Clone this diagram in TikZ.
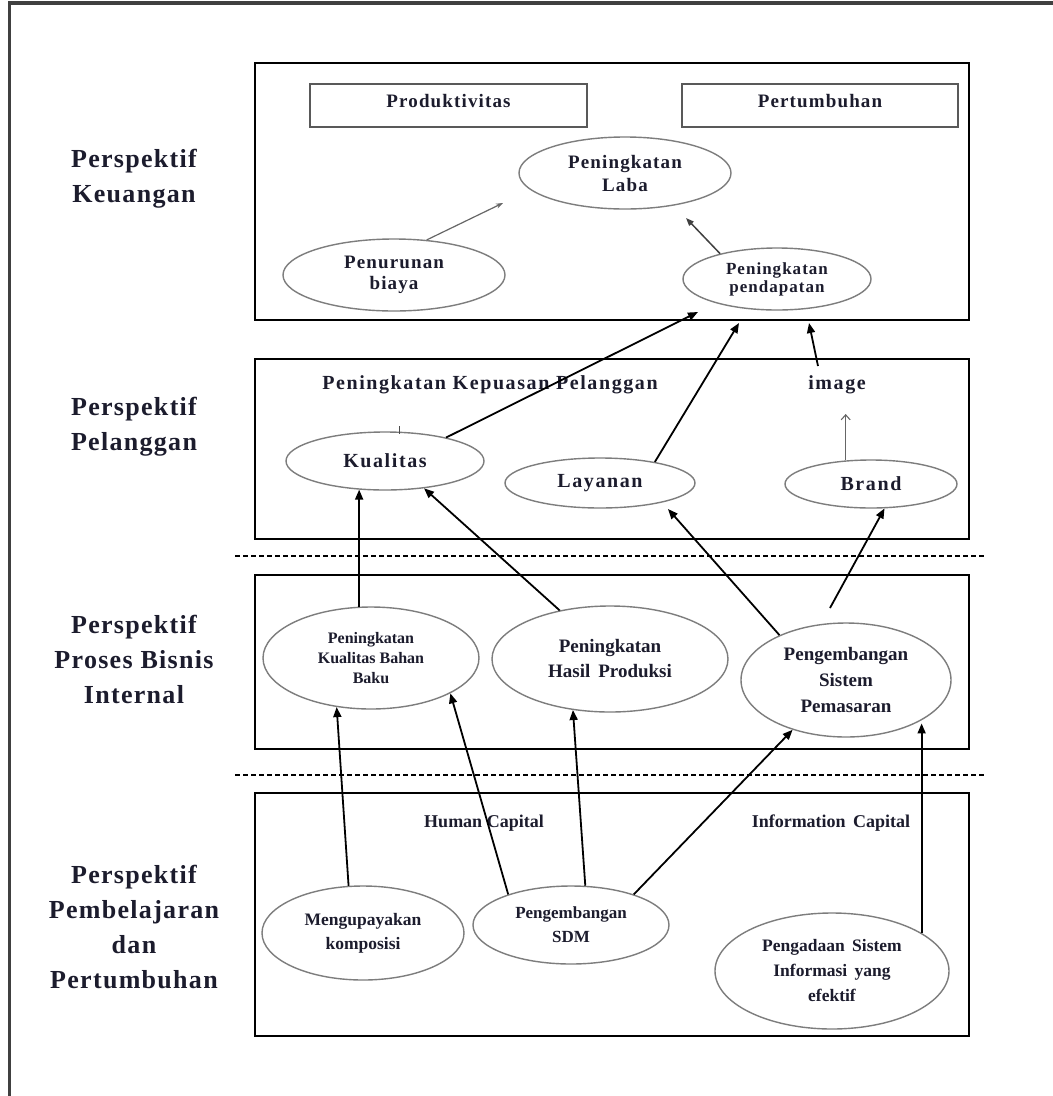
\documentclass[tikz,border=0pt]{standalone}
\usepackage{fontspec}
\setmainfont{Liberation Serif}
\newfontfamily\lblfont[LetterSpace=5]{Liberation Serif}
\newfontfamily\wideA[LetterSpace=6]{Liberation Serif}
\newfontfamily\wideC[LetterSpace=8]{Liberation Serif}
\usetikzlibrary{shapes.geometric,arrows.meta}
\definecolor{ink}{RGB}{28,28,45}
\definecolor{ellgray}{RGB}{125,125,125}
\begin{document}
\begin{tikzpicture}[x=1pt,y=-1pt,
  persp/.style={font=\lblfont\bfseries\fontsize{26}{35}\selectfont, align=center, text=ink, inner sep=0pt},
  frame/.style={draw=black, line width=1.8pt, inner sep=0pt, minimum width=714pt},
  tab/.style={draw=black!65, line width=1.6pt, inner sep=0pt, minimum height=43pt, text depth=9pt,
    font=\wideA\bfseries\fontsize{19}{22}\selectfont, text=ink},
  ell/.style={ellipse, draw=ellgray, line width=1.4pt, inner sep=0pt, align=center, text=ink},
  txtA/.style={font=\wideC\bfseries\fontsize{20}{22}\selectfont, text=ink, inner sep=0pt},
  txtB/.style={font=\bfseries\fontsize{18}{22}\selectfont, text=ink, inner sep=0pt},
  arr/.style={-{Triangle[length=10pt,width=8pt]}, line width=1.8pt, black},
  thinarr/.style={-{Stealth[length=7pt,width=5pt]}, line width=1.2pt, black!60},
  midarr/.style={-{Triangle[length=8pt,width=6pt]}, line width=1.5pt, black!75},
  openarr/.style={-{Straight Barb[length=5pt,width=9pt]}, line width=1.1pt, black!60},
  sep/.style={line width=1.2pt, dash pattern=on 5pt off 3pt}
]
\useasboundingbox (0,0) rectangle (1053,1096);
\fill[white] (0,0) rectangle (1053,1096);
% outer frame
\draw[line width=3.5pt, black!75] (9.5,1096) -- (9.5,3) -- (1053,3);

% perspective labels
\node[persp] (lk) at (134,179) {Perspektif\\Keuangan};
\node[persp] (lp) at (134,427) {Perspektif\\Pelanggan};
\node[persp] (lb) at (134,659) {Perspektif\\Proses Bisnis\\Internal};
\node[persp] (ll) at (134,927) {Perspektif\\Pembelajaran\\dan\\Pertumbuhan};

% frames
\node[frame, minimum height=257pt] (box1) at (612,191.5) {};
\node[frame, minimum height=180pt] (box2) at (612,449) {};
\node[frame, minimum height=174pt] (box3) at (612,662) {};
\node[frame, minimum height=243pt] (box4) at (612,914.5) {};

% separators
\coordinate (s1a) at (235,556); \coordinate (s1b) at (985,556);
\coordinate (s2a) at (235,775); \coordinate (s2b) at (985,775);
\draw[sep] (s1a) -- (s1b);
\draw[sep] (s2a) -- (s2b);

% ---- Keuangan
\node[tab, minimum width=277pt] (prod) at (448.5,105.5) {Produktivitas};
\node[tab, minimum width=276pt] (pert) at (820,105.5) {Pertumbuhan};
\node[ell, minimum width=212pt, minimum height=72pt,
  font=\wideA\bfseries\fontsize{19}{23}\selectfont] (laba) at (625,173) {Peningkatan\\Laba};
\node[ell, minimum width=222pt, minimum height=72pt,
  font=\wideA\bfseries\fontsize{19}{21}\selectfont] (pen) at (394,275) {Penurunan\\biaya};
\node[ell, minimum width=188pt, minimum height=62pt,
  font=\wideA\bfseries\fontsize{17}{18}\selectfont] (pend) at (777,279) {Peningkatan\\pendapatan};

% ---- Pelanggan
\node[txtA] (kep) at (490,385) {Peningkatan Kepuasan Pelanggan};
\node[txtA] (img) at (837,385) {image};
\node[ell, minimum width=198pt, minimum height=58pt, font=\wideC\bfseries\fontsize{20}{22}\selectfont] (kual) at (385,461) {Kualitas};
\node[ell, minimum width=190pt, minimum height=50pt, font=\wideC\bfseries\fontsize{20}{22}\selectfont] (lay) at (600,483) {Layanan};
\node[ell, minimum width=172pt, minimum height=48pt, font=\wideC\bfseries\fontsize{20}{22}\selectfont] (brand) at (871,484) {Brand};
\draw[line width=0.8pt, black!70] (399,426) -- (399,434);

% ---- Proses Bisnis Internal
\node[ell, minimum width=216pt, minimum height=102pt, font=\bfseries\fontsize{16}{20}\selectfont] (kbb) at (371,658) {Peningkatan\\Kualitas Bahan\\Baku};
\node[ell, minimum width=236pt, minimum height=106pt, font=\bfseries\fontsize{19}{25}\selectfont] (hasil) at (610,659) {Peningkatan\\Hasil\, Produksi};
\node[ell, minimum width=210pt, minimum height=114pt, font=\bfseries\fontsize{19}{26}\selectfont] (pem) at (846,680) {Pengembangan\\Sistem\\Pemasaran};

% ---- Pembelajaran dan Pertumbuhan
\node[txtB] (hc) at (484,823) {Human Capital};
\node[txtB] (ic) at (831,823) {Information\, Capital};
\node[ell, minimum width=202pt, minimum height=94pt, font=\bfseries\fontsize{17.5}{24}\selectfont] (meng) at (363,933) {Mengupayakan\\komposisi};
\node[ell, minimum width=196pt, minimum height=78pt, font=\bfseries\fontsize{17}{24}\selectfont] (sdm) at (571,925) {Pengembangan\\SDM};
\node[ell, minimum width=234pt, minimum height=116pt, font=\bfseries\fontsize{17.5}{25}\selectfont] (peng) at (832,971) {Pengadaan\, Sistem\\Informasi\, yang\\efektif};

% free ends
\coordinate (c1) at (503,203);
\coordinate (c2) at (686,218);
\coordinate (c3) at (698,312);
\coordinate (c4) at (739,323);
\coordinate (c5s) at (818,366);
\coordinate (c5) at (809,323);
\coordinate (c6) at (845,414);
\coordinate (c9) at (668,509);
\coordinate (c10s) at (830,608);

% connectors
\draw[thinarr] (pen.47) -- (c1);
\draw[midarr] (pend.156) -- (c2);
\draw[arr] (kual.21) -- (c3);
\draw[arr] (lay.21) -- (c4);
\draw[arr] (c5s) -- (c5);
\draw[openarr] (brand.137) -- (brand.137 |- c6);

\draw[arr] (kbb.103) -- (kbb.103 |- kual.-133);
\draw[arr] (hasil.136) -- (kual.-35);
\draw[arr] (pem.146) -- (c9);
\draw[arr] (c10s) -- (brand.-61);

\draw[arr] (meng.107) -- (kbb.-125);
\draw[arr] (sdm.154) -- (kbb.-24);
\draw[arr] (sdm.70) -- (hasil.-126);
\draw[arr] (sdm.26) -- (pem.-137);
\draw[arr] (peng.23) -- (peng.23 |- pem.-32);
\end{tikzpicture}
\end{document}
